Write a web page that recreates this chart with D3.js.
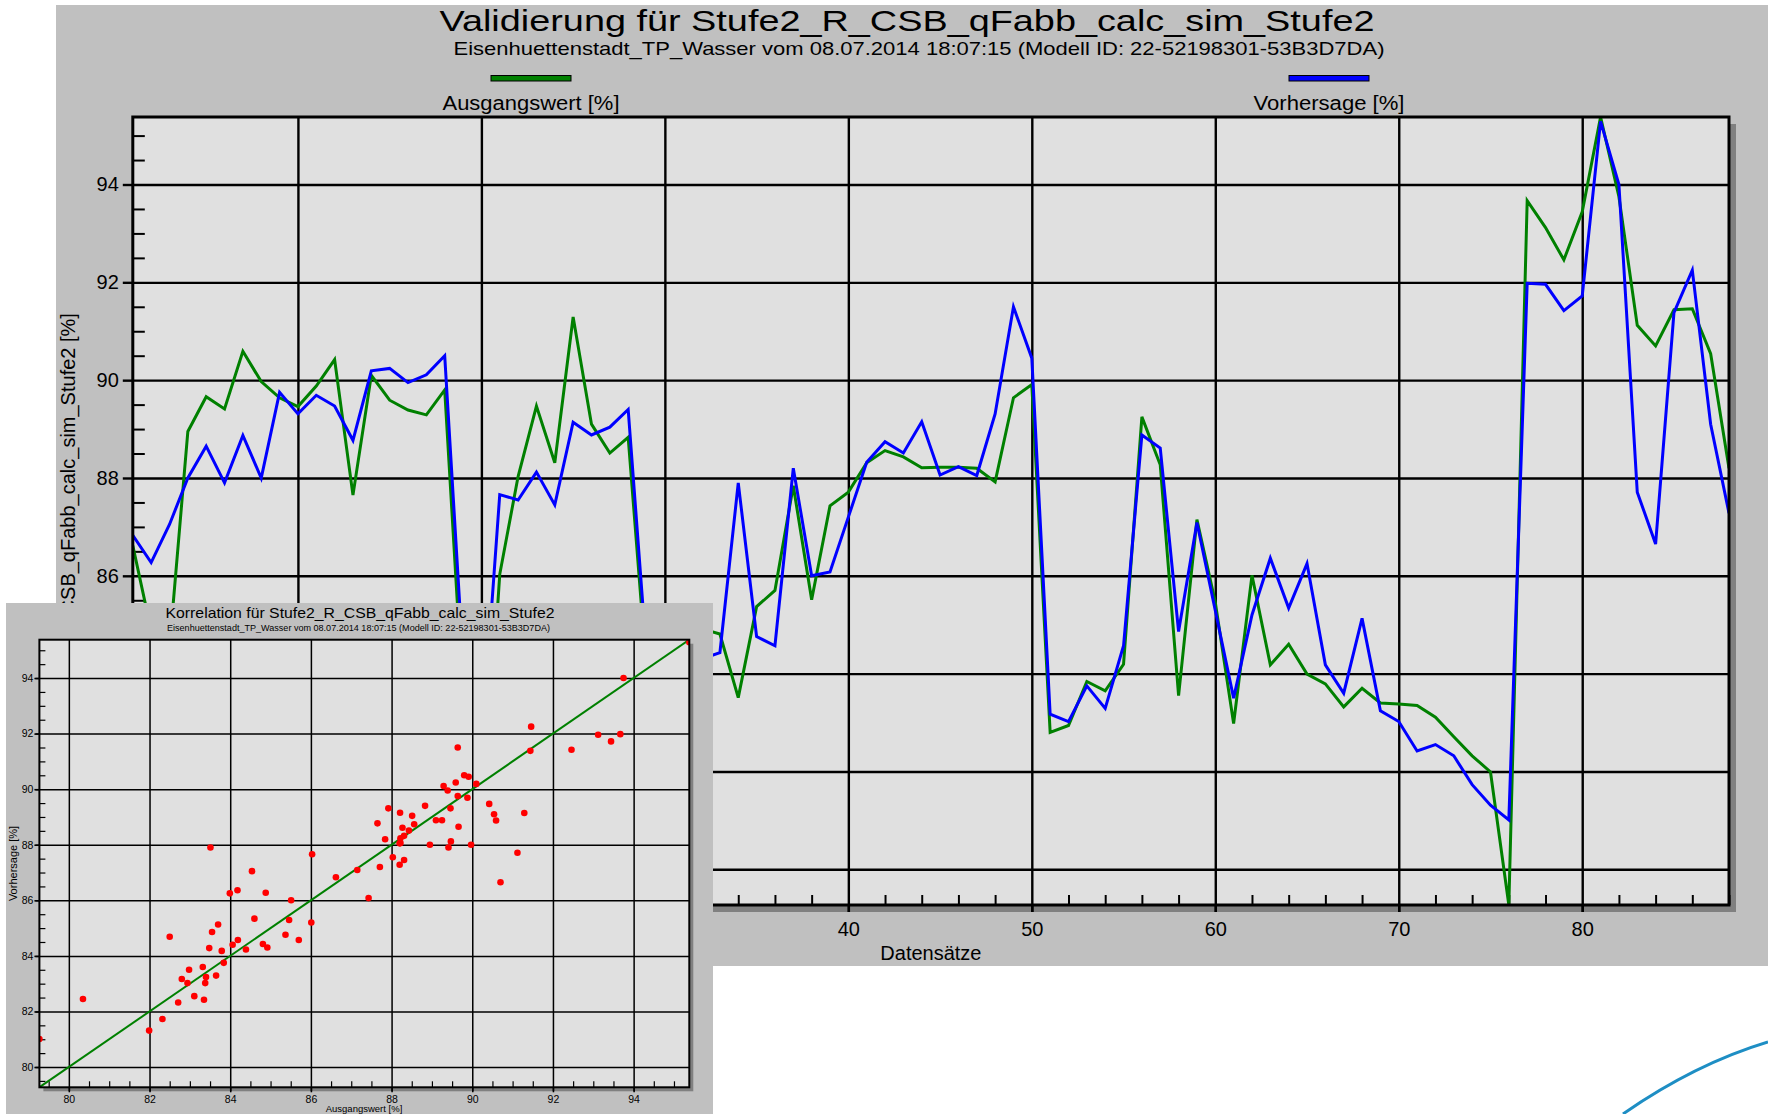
<!DOCTYPE html>
<html>
<head>
<meta charset="utf-8">
<script src="https://cdn.jsdelivr.net/npm/d3@7"></script>
<style>
  html, body { margin: 0; padding: 0; background: #ffffff; }
  svg { display: block; font-family: "Liberation Sans", Arial, sans-serif; }
</style>
</head>
<body>
<svg id="chart" width="1768" height="1114"></svg>
<script>
// ---- data -------------------------------------------------------------
const records = d3.range(1, 89);   // Datensätze 1..88

const ausgangswert = [
  86.62, 84.88, 84.54, 88.95, 89.66, 89.41, 90.59, 89.97, 89.64, 89.46,
  89.88, 90.42, 87.65, 90.10, 89.59, 89.39, 89.29, 89.80, 83.48, 80.35,
  86.03, 88.03, 89.47, 88.31, 91.29, 89.10, 88.51, 88.83, 84.06, 82.50,
  84.39, 84.92, 84.81, 83.51, 85.37, 85.70, 87.84, 85.51, 87.43, 87.71,
  88.31, 88.56, 88.43, 88.21, 88.22, 88.22, 88.20, 87.92, 89.64, 89.91,
  82.80, 82.94, 83.84, 83.65, 84.19, 89.25, 88.27, 83.55, 87.15, 85.46,
  82.98, 86.01, 84.18, 84.60, 83.99, 83.79, 83.32, 83.70, 83.40, 83.38,
  83.35, 83.11, 82.71, 82.32, 81.99, 79.27, 93.67, 93.12, 92.46, 93.44,
  95.38, 93.75, 91.12, 90.70, 91.44, 91.46, 90.54, 88.20
];

const vorhersage = [
  86.83, 86.27, 87.05, 88.00, 88.65, 87.90, 88.87, 88.00, 89.75, 89.31,
  89.69, 89.47, 88.77, 90.19, 90.24, 89.95, 90.11, 90.50, 84.28, 82.45,
  87.66, 87.55, 88.12, 87.45, 89.14, 88.88, 89.04, 89.40, 84.40, 84.69,
  84.23, 84.30, 84.43, 87.90, 84.76, 84.57, 88.20, 86.00, 86.08, 87.20,
  88.32, 88.74, 88.51, 89.15, 88.06, 88.23, 88.05, 89.31, 91.50, 90.45,
  83.17, 83.02, 83.75, 83.29, 84.57, 88.88, 88.61, 84.86, 87.09, 85.29,
  83.50, 85.20, 86.36, 85.34, 86.25, 84.18, 83.60, 85.13, 83.24, 83.02,
  82.42, 82.55, 82.32, 81.73, 81.31, 81.01, 91.98, 91.96, 91.42, 91.72,
  95.29, 94.00, 87.71, 86.65, 91.38, 92.25, 89.10, 87.28
];

const seriesNames = ["Ausgangswert [%]", "Vorhersage [%]"];
const seriesColors = ["#008000", "#0000ff"];

const xMajorTicks = [10, 20, 30, 40, 50, 60, 70, 80];
const xMinorTicks = d3.range(2, 89, 2).filter(v => v % 10 !== 0);
const yMajorTicks = [80, 82, 84, 86, 88, 90, 92, 94];
const yMinorTicks = d3.range(159, 191).map(v => v / 2).filter(v => v % 2 !== 0);

const variableName = "Stufe2_R_CSB_qFabb_calc_sim_Stufe2";
const mainTitle = "Validierung für " + variableName;
const corrTitle = "Korrelation für " + variableName;
const subTitle = "Eisenhuettenstadt_TP_Wasser vom 08.07.2014 18:07:15 (Modell ID: 22-52198301-53B3D7DA)";
const xAxisTitle = "Datensätze";
const yAxisTitle = variableName + " [%]";

// ---- setup ------------------------------------------------------------
const svg = d3.select("#chart");
const valueExtent = d3.extent(ausgangswert.concat(vorhersage));

function styleAxis(g, color, width) {
  g.select(".domain").remove();
  g.selectAll(".tick line").attr("stroke", color).attr("stroke-width", width);
}

// ---- main validation chart --------------------------------------------
const M = { left: 132.8, right: 1729, top: 117, bottom: 905 };
const x = d3.scaleLinear().domain([1, records.length]).range([M.left, M.right]);
const y = d3.scaleLinear().domain(valueExtent).range([M.bottom, M.top]);
const mw = M.right - M.left, mh = M.bottom - M.top;

svg.append("rect").attr("x", 56).attr("y", 5).attr("width", 1768 - 56).attr("height", 961)
  .attr("fill", "#c0c0c0");

// titles
svg.append("text").attr("x", 907).attr("y", 31).attr("text-anchor", "middle")
  .attr("font-size", 30).attr("textLength", 935).attr("lengthAdjust", "spacingAndGlyphs")
  .text(mainTitle);
svg.append("text").attr("x", 919).attr("y", 55).attr("text-anchor", "middle")
  .attr("font-size", 19).attr("textLength", 931).attr("lengthAdjust", "spacingAndGlyphs")
  .text(subTitle);

// legend
const legendX = [531, 1329];
seriesNames.forEach((name, i) => {
  svg.append("rect").attr("x", legendX[i] - 40).attr("y", 75.5).attr("width", 80).attr("height", 5.5)
    .attr("fill", seriesColors[i]).attr("stroke", "#000").attr("stroke-width", 1);
  svg.append("text").attr("x", legendX[i]).attr("y", 110).attr("text-anchor", "middle")
    .attr("font-size", 20).attr("textLength", i === 0 ? 177 : 151)
    .attr("lengthAdjust", "spacingAndGlyphs").text(name);
});

// plot background with drop shadow
svg.append("rect").attr("x", M.left + 7).attr("y", M.top + 7).attr("width", mw).attr("height", mh)
  .attr("fill", "#808080");
svg.append("rect").attr("x", M.left).attr("y", M.top).attr("width", mw).attr("height", mh)
  .attr("fill", "#e0e0e0");

// grid lines (vertical ones run a little below the frame)
svg.append("g").attr("transform", `translate(0,${M.bottom + 7})`)
  .call(d3.axisBottom(x).tickValues(xMajorTicks).tickSize(-(mh + 7)).tickFormat(""))
  .call(g => styleAxis(g, "#000", 2.4));
svg.append("g").attr("transform", `translate(${M.left},0)`)
  .call(d3.axisLeft(y).tickValues(yMajorTicks).tickSize(-mw).tickFormat(""))
  .call(g => styleAxis(g, "#000", 2.4));

// minor ticks inside the frame
svg.append("g").attr("transform", `translate(0,${M.bottom})`)
  .call(d3.axisBottom(x).tickValues(xMinorTicks).tickSize(-10).tickFormat(""))
  .call(g => styleAxis(g, "#000", 2));
svg.append("g").attr("transform", `translate(${M.left},0)`)
  .call(d3.axisLeft(y).tickValues(yMinorTicks).tickSize(-12).tickFormat(""))
  .call(g => styleAxis(g, "#000", 2));

// series lines
svg.append("clipPath").attr("id", "mainClip").append("rect")
  .attr("x", M.left).attr("y", M.top).attr("width", mw).attr("height", mh);
const line = d3.line().x((d, i) => x(records[i])).y(d => y(d));
[ausgangswert, vorhersage].forEach((vals, i) => {
  svg.append("path").datum(vals).attr("clip-path", "url(#mainClip)")
    .attr("fill", "none").attr("stroke", seriesColors[i]).attr("stroke-width", 3)
    .attr("stroke-linejoin", "miter").attr("d", line);
});

// frame
svg.append("rect").attr("x", M.left).attr("y", M.top).attr("width", mw).attr("height", mh)
  .attr("fill", "none").attr("stroke", "#000").attr("stroke-width", 3);

// tick labels
svg.append("g").attr("transform", `translate(0,${M.bottom})`)
  .call(d3.axisBottom(x).tickValues(xMajorTicks).tickSize(7).tickPadding(10).tickFormat(d3.format("d")))
  .call(g => styleAxis(g, "#000", 2.4))
  .call(g => g.selectAll("text").attr("font-size", 20).attr("font-family", "Liberation Sans").attr("fill", "#000"));
svg.append("g").attr("transform", `translate(${M.left},0)`)
  .call(d3.axisLeft(y).tickValues(yMajorTicks).tickSize(10).tickPadding(4).tickFormat(d3.format("d")))
  .call(g => styleAxis(g, "#000", 2.4))
  .call(g => g.selectAll("text").attr("font-size", 20).attr("font-family", "Liberation Sans").attr("fill", "#000"));

// axis titles
svg.append("text").attr("x", (M.left + M.right) / 2).attr("y", 960).attr("text-anchor", "middle")
  .attr("font-size", 20).text(xAxisTitle);
svg.append("text").attr("transform", `translate(75,${(M.top + M.bottom) / 2}) rotate(-90)`)
  .attr("text-anchor", "middle").attr("font-size", 20).text(yAxisTitle);

// ---- correlation inset ------------------------------------------------
const C = { left: 39.4, right: 689.3, top: 639.7, bottom: 1087.3 };
const cw = C.right - C.left, ch = C.bottom - C.top;
const sx = d3.scaleLinear().domain(valueExtent).range([C.left, C.right]);
const sy = d3.scaleLinear().domain(valueExtent).range([C.bottom, C.top]);

svg.append("rect").attr("x", 6).attr("y", 603).attr("width", 707).attr("height", 1114 - 603)
  .attr("fill", "#c0c0c0");

svg.append("text").attr("x", 360).attr("y", 617.5).attr("text-anchor", "middle")
  .attr("font-size", 15).attr("textLength", 389).attr("lengthAdjust", "spacingAndGlyphs")
  .text(corrTitle);
svg.append("text").attr("x", 358.5).attr("y", 631).attr("text-anchor", "middle")
  .attr("font-size", 9.3).attr("textLength", 383).attr("lengthAdjust", "spacingAndGlyphs")
  .text(subTitle);

svg.append("rect").attr("x", C.left + 4).attr("y", C.top + 4).attr("width", cw).attr("height", ch)
  .attr("fill", "#808080");
svg.append("rect").attr("x", C.left).attr("y", C.top).attr("width", cw).attr("height", ch)
  .attr("fill", "#e0e0e0");

svg.append("g").attr("transform", `translate(0,${C.bottom + 4})`)
  .call(d3.axisBottom(sx).tickValues(yMajorTicks).tickSize(-(ch + 4)).tickFormat(""))
  .call(g => styleAxis(g, "#000", 1.5));
svg.append("g").attr("transform", `translate(${C.left - 4},0)`)
  .call(d3.axisLeft(sy).tickValues(yMajorTicks).tickSize(-(cw + 4)).tickFormat(""))
  .call(g => styleAxis(g, "#000", 1.5));

svg.append("g").attr("transform", `translate(0,${C.bottom})`)
  .call(d3.axisBottom(sx).tickValues(yMinorTicks).tickSize(-6).tickFormat(""))
  .call(g => styleAxis(g, "#000", 1.2));
svg.append("g").attr("transform", `translate(${C.left},0)`)
  .call(d3.axisLeft(sy).tickValues(yMinorTicks).tickSize(-6).tickFormat(""))
  .call(g => styleAxis(g, "#000", 1.2));

svg.append("clipPath").attr("id", "corrClip").append("rect")
  .attr("x", C.left).attr("y", C.top).attr("width", cw).attr("height", ch);

// ideal line: Vorhersage = Ausgangswert
svg.append("path").datum(valueExtent).attr("clip-path", "url(#corrClip)")
  .attr("fill", "none").attr("stroke", "#008000").attr("stroke-width", 2)
  .attr("d", d3.line().x(d => sx(d)).y(d => sy(d)));

svg.append("g").attr("clip-path", "url(#corrClip)")
  .selectAll("circle").data(d3.zip(ausgangswert, vorhersage)).join("circle")
  .attr("cx", d => sx(d[0])).attr("cy", d => sy(d[1])).attr("r", 3.3)
  .attr("fill", "#ff0000");

svg.append("rect").attr("x", C.left).attr("y", C.top).attr("width", cw).attr("height", ch)
  .attr("fill", "none").attr("stroke", "#000").attr("stroke-width", 2);

svg.append("g").attr("transform", `translate(0,${C.bottom})`)
  .call(d3.axisBottom(sx).tickValues(yMajorTicks).tickSize(5).tickPadding(3).tickFormat(d3.format("d")))
  .call(g => styleAxis(g, "#000", 1.5))
  .call(g => g.selectAll("text").attr("font-size", 10.5).attr("font-family", "Liberation Sans").attr("fill", "#000"));
svg.append("g").attr("transform", `translate(${C.left},0)`)
  .call(d3.axisLeft(sy).tickValues(yMajorTicks).tickSize(5).tickPadding(1).tickFormat(d3.format("d")))
  .call(g => styleAxis(g, "#000", 1.5))
  .call(g => g.selectAll("text").attr("font-size", 10.5).attr("font-family", "Liberation Sans").attr("fill", "#000"));

svg.append("text").attr("x", 364).attr("y", 1111.5).attr("text-anchor", "middle")
  .attr("font-size", 9.5).text(seriesNames[0]);
svg.append("text").attr("transform", `translate(17,${(C.top + C.bottom) / 2}) rotate(-90)`)
  .attr("text-anchor", "middle").attr("font-size", 11).text(seriesNames[1]);

// decorative swoosh in the lower right corner
svg.append("path").attr("d", "M1623,1114 Q1695,1064 1768,1042")
  .attr("fill", "none").attr("stroke", "#1e8ec4").attr("stroke-width", 3);
</script>
</body>
</html>
